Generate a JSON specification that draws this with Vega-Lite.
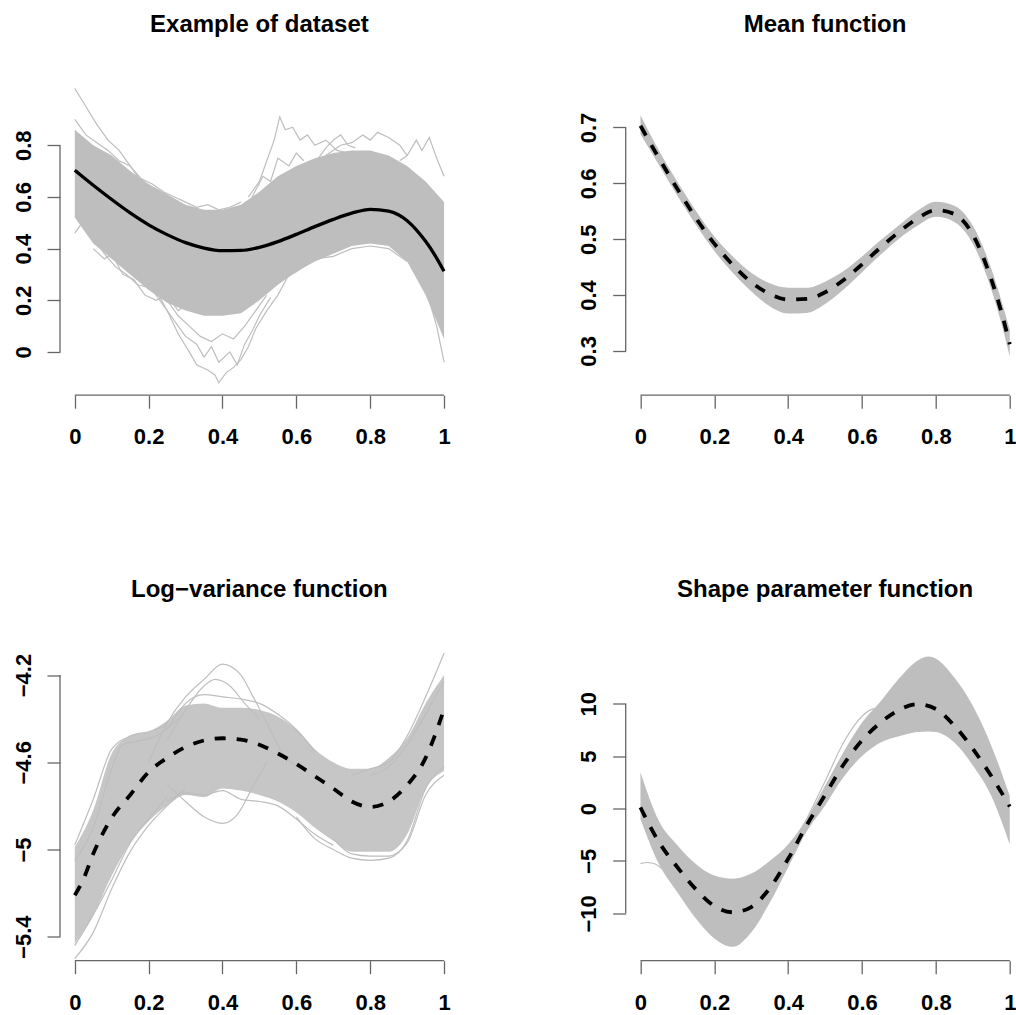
{
  "$schema": "https://vega.github.io/schema/vega-lite/v6.json",
  "background": "white",
  "padding": {"left": 11, "top": 12, "right": 0, "bottom": 0},
  "config": {
    "view": {"stroke": null},
    "axis": {"domain": false, "grid": false, "tickSize": 13, "tickColor": "#666666", "tickWidth": 1.3,
             "labelFont": "Liberation Sans", "labelFontWeight": "bold", "labelFontSize": 22, "labelColor": "#000000",
             "labelOverlap": false, "labelFlush": false, "labelBound": false},
    "title": {"font": "Liberation Sans", "fontSize": 24, "fontWeight": "bold", "color": "#000000", "anchor": "middle", "frame": "group", "baseline": "alphabetic", "offset": 42.2, "dx": 4.6}
  },
  "datasets": {
    "tl_band": [
      {"x":0,"lo":0.52,"hi":0.86},{"x":0.05,"lo":0.42,"hi":0.80},{"x":0.1,"lo":0.36,"hi":0.76},{"x":0.15,"lo":0.30,"hi":0.70},
      {"x":0.2,"lo":0.24,"hi":0.65},{"x":0.25,"lo":0.19,"hi":0.61},{"x":0.3,"lo":0.16,"hi":0.57},{"x":0.35,"lo":0.14,"hi":0.55},
      {"x":0.4,"lo":0.14,"hi":0.55},{"x":0.45,"lo":0.15,"hi":0.57},{"x":0.5,"lo":0.20,"hi":0.62},{"x":0.55,"lo":0.26,"hi":0.68},
      {"x":0.6,"lo":0.31,"hi":0.72},{"x":0.65,"lo":0.35,"hi":0.75},{"x":0.7,"lo":0.38,"hi":0.77},{"x":0.75,"lo":0.41,"hi":0.78},
      {"x":0.8,"lo":0.42,"hi":0.78},{"x":0.85,"lo":0.41,"hi":0.76},{"x":0.9,"lo":0.35,"hi":0.72},{"x":0.95,"lo":0.22,"hi":0.66},
      {"x":1,"lo":0.05,"hi":0.58}
    ],
    "tl_lines": [
      {"id":"s1","x":0,"y":1.02},{"id":"s1","x":0.03,"y":0.95},{"id":"s1","x":0.06,"y":0.88},{"id":"s1","x":0.09,"y":0.82},{"id":"s1","x":0.12,"y":0.78},{"id":"s1","x":0.15,"y":0.72},{"id":"s1","x":0.18,"y":0.66},
      {"id":"s2","x":0.47,"y":0.6},{"id":"s2","x":0.5,"y":0.66},{"id":"s2","x":0.52,"y":0.74},{"id":"s2","x":0.54,"y":0.82},{"id":"s2","x":0.555,"y":0.91},{"id":"s2","x":0.57,"y":0.86},{"id":"s2","x":0.59,"y":0.87},{"id":"s2","x":0.61,"y":0.82},{"id":"s2","x":0.63,"y":0.84},{"id":"s2","x":0.65,"y":0.8},{"id":"s2","x":0.68,"y":0.82},{"id":"s2","x":0.71,"y":0.78},{"id":"s2","x":0.74,"y":0.77},
      {"id":"s2b","x":0.48,"y":0.6},{"id":"s2b","x":0.51,"y":0.68},{"id":"s2b","x":0.53,"y":0.66},{"id":"s2b","x":0.55,"y":0.75},{"id":"s2b","x":0.58,"y":0.72},{"id":"s2b","x":0.6,"y":0.77},{"id":"s2b","x":0.62,"y":0.74},
      {"id":"s3","x":0.68,"y":0.76},{"id":"s3","x":0.72,"y":0.8},{"id":"s3","x":0.75,"y":0.81},{"id":"s3","x":0.78,"y":0.84},{"id":"s3","x":0.8,"y":0.82},{"id":"s3","x":0.82,"y":0.85},{"id":"s3","x":0.85,"y":0.83},{"id":"s3","x":0.88,"y":0.8},{"id":"s3","x":0.9,"y":0.76},
      {"id":"s3b","x":0.66,"y":0.75},{"id":"s3b","x":0.68,"y":0.79},{"id":"s3b","x":0.7,"y":0.82},{"id":"s3b","x":0.72,"y":0.84},{"id":"s3b","x":0.74,"y":0.8},{"id":"s3b","x":0.76,"y":0.79},
      {"id":"s4","x":0.88,"y":0.74},{"id":"s4","x":0.9,"y":0.76},{"id":"s4","x":0.925,"y":0.82},{"id":"s4","x":0.94,"y":0.78},{"id":"s4","x":0.96,"y":0.83},{"id":"s4","x":0.98,"y":0.75},{"id":"s4","x":1,"y":0.68},
      {"id":"s5","x":0.22,"y":0.24},{"id":"s5","x":0.25,"y":0.16},{"id":"s5","x":0.28,"y":0.07},{"id":"s5","x":0.31,"y":0.0},{"id":"s5","x":0.33,"y":-0.05},{"id":"s5","x":0.36,"y":-0.07},{"id":"s5","x":0.38,"y":-0.09},{"id":"s5","x":0.39,"y":-0.12},{"id":"s5","x":0.41,"y":-0.08},{"id":"s5","x":0.43,"y":-0.06},{"id":"s5","x":0.45,"y":-0.03},{"id":"s5","x":0.47,"y":0.02},{"id":"s5","x":0.49,"y":0.09},{"id":"s5","x":0.52,"y":0.16},{"id":"s5","x":0.55,"y":0.22},{"id":"s5","x":0.58,"y":0.3},
      {"id":"s6","x":0.2,"y":0.26},{"id":"s6","x":0.24,"y":0.18},{"id":"s6","x":0.27,"y":0.12},{"id":"s6","x":0.3,"y":0.06},{"id":"s6","x":0.33,"y":0.03},{"id":"s6","x":0.35,"y":-0.02},{"id":"s6","x":0.37,"y":0.02},{"id":"s6","x":0.39,"y":-0.04},{"id":"s6","x":0.42,"y":0.0},{"id":"s6","x":0.44,"y":-0.05},{"id":"s6","x":0.46,"y":0.03},{"id":"s6","x":0.48,"y":0.08},{"id":"s6","x":0.5,"y":0.14},{"id":"s6","x":0.53,"y":0.21},
      {"id":"s7","x":0.25,"y":0.2},{"id":"s7","x":0.28,"y":0.14},{"id":"s7","x":0.31,"y":0.1},{"id":"s7","x":0.34,"y":0.06},{"id":"s7","x":0.37,"y":0.04},{"id":"s7","x":0.4,"y":0.07},{"id":"s7","x":0.43,"y":0.05},{"id":"s7","x":0.46,"y":0.1},{"id":"s7","x":0.49,"y":0.16},{"id":"s7","x":0.52,"y":0.22},
      {"id":"s8","x":0,"y":0.46},{"id":"s8","x":0.03,"y":0.52},{"id":"s8","x":0.05,"y":0.45},{"id":"s8","x":0.08,"y":0.38},{"id":"s8","x":0.11,"y":0.33},{"id":"s8","x":0.14,"y":0.3},{"id":"s8","x":0.17,"y":0.26},{"id":"s8","x":0.2,"y":0.25},
      {"id":"s9","x":0.88,"y":0.38},{"id":"s9","x":0.9,"y":0.36},{"id":"s9","x":0.93,"y":0.3},{"id":"s9","x":0.96,"y":0.2},{"id":"s9","x":0.98,"y":0.1},{"id":"s9","x":1,"y":-0.04},
      {"id":"s10","x":0.5,"y":0.21},{"id":"s10","x":0.55,"y":0.27},{"id":"s10","x":0.6,"y":0.31},{"id":"s10","x":0.65,"y":0.36},{"id":"s10","x":0.7,"y":0.37},{"id":"s10","x":0.75,"y":0.4},{"id":"s10","x":0.8,"y":0.41},{"id":"s10","x":0.85,"y":0.4},{"id":"s10","x":0.9,"y":0.35},
      {"id":"s11","x":0,"y":0.9},{"id":"s11","x":0.03,"y":0.84},{"id":"s11","x":0.06,"y":0.81},{"id":"s11","x":0.09,"y":0.78},{"id":"s11","x":0.12,"y":0.74},{"id":"s11","x":0.15,"y":0.72},{"id":"s11","x":0.18,"y":0.67},{"id":"s11","x":0.21,"y":0.65},{"id":"s11","x":0.24,"y":0.62},{"id":"s11","x":0.27,"y":0.6},{"id":"s11","x":0.3,"y":0.58},{"id":"s11","x":0.33,"y":0.56},{"id":"s11","x":0.36,"y":0.57},{"id":"s11","x":0.39,"y":0.55},{"id":"s11","x":0.42,"y":0.56},{"id":"s11","x":0.45,"y":0.58},
      {"id":"s12","x":0.05,"y":0.4},{"id":"s12","x":0.08,"y":0.36},{"id":"s12","x":0.1,"y":0.38},{"id":"s12","x":0.13,"y":0.3},{"id":"s12","x":0.16,"y":0.28},{"id":"s12","x":0.19,"y":0.22},{"id":"s12","x":0.22,"y":0.2},{"id":"s12","x":0.25,"y":0.22},{"id":"s12","x":0.28,"y":0.16},{"id":"s12","x":0.3,"y":0.18}
    ],
    "mean_fn": [
      {"x":0,"y":0.703},{"x":0.05,"y":0.645},{"x":0.1,"y":0.590},{"x":0.15,"y":0.538},{"x":0.2,"y":0.492},{"x":0.25,"y":0.454},{"x":0.3,"y":0.423},
      {"x":0.35,"y":0.402},{"x":0.4,"y":0.392},{"x":0.45,"y":0.393},{"x":0.5,"y":0.405},{"x":0.55,"y":0.427},{"x":0.6,"y":0.455},{"x":0.65,"y":0.485},
      {"x":0.7,"y":0.513},{"x":0.75,"y":0.537},{"x":0.8,"y":0.552},{"x":0.85,"y":0.545},{"x":0.9,"y":0.508},{"x":0.95,"y":0.428},{"x":0.975,"y":0.375},{"x":1,"y":0.312}
    ],
    "tr_band": [
      {"x":0,"lo":0.688,"hi":0.722},{"x":0.05,"lo":0.633,"hi":0.659},{"x":0.1,"lo":0.578,"hi":0.603},{"x":0.15,"lo":0.526,"hi":0.551},
      {"x":0.2,"lo":0.479,"hi":0.505},{"x":0.25,"lo":0.440,"hi":0.469},{"x":0.3,"lo":0.407,"hi":0.440},{"x":0.35,"lo":0.380,"hi":0.421},
      {"x":0.4,"lo":0.367,"hi":0.413},{"x":0.45,"lo":0.368,"hi":0.413},{"x":0.5,"lo":0.384,"hi":0.424},{"x":0.55,"lo":0.410,"hi":0.443},
      {"x":0.6,"lo":0.441,"hi":0.469},{"x":0.65,"lo":0.472,"hi":0.498},{"x":0.7,"lo":0.501,"hi":0.525},{"x":0.75,"lo":0.524,"hi":0.551},
      {"x":0.8,"lo":0.540,"hi":0.567},{"x":0.85,"lo":0.531,"hi":0.560},{"x":0.9,"lo":0.492,"hi":0.524},{"x":0.95,"lo":0.410,"hi":0.447},
      {"x":0.975,"lo":0.355,"hi":0.395},{"x":1,"lo":0.290,"hi":0.338}
    ],
    "bl_band": [
      {"x":0,"lo":-5.43,"hi":-4.99},{"x":0.05,"lo":-5.30,"hi":-4.82},{"x":0.1,"lo":-5.12,"hi":-4.56},{"x":0.15,"lo":-4.97,"hi":-4.48},
      {"x":0.2,"lo":-4.87,"hi":-4.46},{"x":0.25,"lo":-4.80,"hi":-4.41},{"x":0.3,"lo":-4.75,"hi":-4.34},{"x":0.35,"lo":-4.76,"hi":-4.33},
      {"x":0.4,"lo":-4.72,"hi":-4.35},{"x":0.45,"lo":-4.73,"hi":-4.35},{"x":0.5,"lo":-4.75,"hi":-4.36},{"x":0.55,"lo":-4.78,"hi":-4.39},
      {"x":0.6,"lo":-4.83,"hi":-4.45},{"x":0.65,"lo":-4.90,"hi":-4.54},{"x":0.7,"lo":-4.96,"hi":-4.60},{"x":0.75,"lo":-5.01,"hi":-4.63},
      {"x":0.8,"lo":-5.01,"hi":-4.63},{"x":0.85,"lo":-5.01,"hi":-4.58},{"x":0.9,"lo":-4.93,"hi":-4.49},{"x":0.95,"lo":-4.72,"hi":-4.33},
      {"x":1,"lo":-4.64,"hi":-4.20}
    ],
    "bl_lines": [
      {"id":"b1","x":0.2,"y":-4.6},{"id":"b1","x":0.25,"y":-4.42},{"id":"b1","x":0.3,"y":-4.3},{"id":"b1","x":0.35,"y":-4.22},{"id":"b1","x":0.4,"y":-4.15},{"id":"b1","x":0.45,"y":-4.2},{"id":"b1","x":0.48,"y":-4.29},{"id":"b1","x":0.52,"y":-4.42},{"id":"b1","x":0.56,"y":-4.55},{"id":"b1","x":0.6,"y":-4.62},
      {"id":"b2","x":0.25,"y":-4.5},{"id":"b2","x":0.3,"y":-4.36},{"id":"b2","x":0.35,"y":-4.25},{"id":"b2","x":0.38,"y":-4.22},{"id":"b2","x":0.42,"y":-4.25},{"id":"b2","x":0.46,"y":-4.33},{"id":"b2","x":0.5,"y":-4.4},
      {"id":"b3","x":0.25,"y":-4.7},{"id":"b3","x":0.3,"y":-4.78},{"id":"b3","x":0.35,"y":-4.85},{"id":"b3","x":0.4,"y":-4.88},{"id":"b3","x":0.44,"y":-4.84},{"id":"b3","x":0.48,"y":-4.72},{"id":"b3","x":0.52,"y":-4.6},
      {"id":"b4","x":0,"y":-5.5},{"id":"b4","x":0.05,"y":-5.38},{"id":"b4","x":0.1,"y":-5.18},{"id":"b4","x":0.15,"y":-5.01},{"id":"b4","x":0.2,"y":-4.89},{"id":"b4","x":0.25,"y":-4.8},{"id":"b4","x":0.3,"y":-4.72},
      {"id":"b5","x":0,"y":-5.44},{"id":"b5","x":0.05,"y":-5.3},{"id":"b5","x":0.1,"y":-5.14},{"id":"b5","x":0.15,"y":-4.97},{"id":"b5","x":0.2,"y":-4.86},{"id":"b5","x":0.25,"y":-4.76},
      {"id":"b6","x":0,"y":-4.98},{"id":"b6","x":0.05,"y":-4.77},{"id":"b6","x":0.1,"y":-4.54},{"id":"b6","x":0.15,"y":-4.48},{"id":"b6","x":0.2,"y":-4.46},{"id":"b6","x":0.25,"y":-4.43},
      {"id":"b7","x":0.75,"y":-4.66},{"id":"b7","x":0.8,"y":-4.63},{"id":"b7","x":0.85,"y":-4.6},{"id":"b7","x":0.9,"y":-4.48},{"id":"b7","x":0.95,"y":-4.3},{"id":"b7","x":1,"y":-4.1},
      {"id":"b8","x":0.7,"y":-4.95},{"id":"b8","x":0.75,"y":-5.02},{"id":"b8","x":0.8,"y":-5.03},{"id":"b8","x":0.85,"y":-5.03},{"id":"b8","x":0.9,"y":-4.97},{"id":"b8","x":0.95,"y":-4.75},{"id":"b8","x":1,"y":-4.66},
      {"id":"b9","x":0.25,"y":-4.45},{"id":"b9","x":0.3,"y":-4.33},{"id":"b9","x":0.35,"y":-4.29},{"id":"b9","x":0.4,"y":-4.3},{"id":"b9","x":0.45,"y":-4.31},{"id":"b9","x":0.5,"y":-4.33},{"id":"b9","x":0.55,"y":-4.38},{"id":"b9","x":0.6,"y":-4.45},{"id":"b9","x":0.65,"y":-4.55},
      {"id":"b10","x":0.25,"y":-4.78},{"id":"b10","x":0.3,"y":-4.74},{"id":"b10","x":0.35,"y":-4.75},{"id":"b10","x":0.4,"y":-4.73},{"id":"b10","x":0.45,"y":-4.77},{"id":"b10","x":0.5,"y":-4.78},{"id":"b10","x":0.55,"y":-4.8},{"id":"b10","x":0.6,"y":-4.86},{"id":"b10","x":0.65,"y":-4.93},{"id":"b10","x":0.7,"y":-4.98},
      {"id":"b11","x":0,"y":-5.05},{"id":"b11","x":0.05,"y":-4.9},{"id":"b11","x":0.1,"y":-4.63},{"id":"b11","x":0.13,"y":-4.52},{"id":"b11","x":0.18,"y":-4.5},{"id":"b11","x":0.23,"y":-4.47},{"id":"b11","x":0.28,"y":-4.4},
      {"id":"b12","x":0.8,"y":-4.66},{"id":"b12","x":0.85,"y":-4.62},{"id":"b12","x":0.9,"y":-4.52},{"id":"b12","x":0.95,"y":-4.38},{"id":"b12","x":1,"y":-4.23},
      {"id":"b13","x":0.6,"y":-4.85},{"id":"b13","x":0.65,"y":-4.95},{"id":"b13","x":0.7,"y":-5.0},{"id":"b13","x":0.75,"y":-5.04},{"id":"b13","x":0.8,"y":-5.05},{"id":"b13","x":0.85,"y":-5.04},{"id":"b13","x":0.9,"y":-4.96},{"id":"b13","x":0.95,"y":-4.72},{"id":"b13","x":1,"y":-4.62}
    ],
    "bl_mean": [
      {"x":0,"y":-5.21},{"x":0.025,"y":-5.13},{"x":0.05,"y":-5.02},{"x":0.075,"y":-4.93},{"x":0.1,"y":-4.855},{"x":0.15,"y":-4.75},{"x":0.2,"y":-4.645},
      {"x":0.25,"y":-4.58},{"x":0.3,"y":-4.53},{"x":0.35,"y":-4.5},{"x":0.4,"y":-4.49},{"x":0.45,"y":-4.496},{"x":0.5,"y":-4.52},{"x":0.55,"y":-4.56},
      {"x":0.6,"y":-4.608},{"x":0.65,"y":-4.664},{"x":0.7,"y":-4.72},{"x":0.75,"y":-4.78},{"x":0.8,"y":-4.805},{"x":0.85,"y":-4.78},{"x":0.9,"y":-4.705},
      {"x":0.95,"y":-4.58},{"x":0.975,"y":-4.478},{"x":1,"y":-4.356}
    ],
    "br_band": [
      {"x":0,"lo":-1.0,"hi":3.45},{"x":0.05,"lo":-5.3,"hi":-1.2},{"x":0.1,"lo":-8.0,"hi":-3.5},{"x":0.15,"lo":-10.5,"hi":-5.3},
      {"x":0.2,"lo":-12.4,"hi":-6.4},{"x":0.25,"lo":-13.2,"hi":-6.7},{"x":0.3,"lo":-11.8,"hi":-6.2},{"x":0.35,"lo":-9.0,"hi":-5.0},
      {"x":0.4,"lo":-5.6,"hi":-3.4},{"x":0.45,"lo":-2.2,"hi":-1.0},{"x":0.5,"lo":0.3,"hi":2.2},{"x":0.55,"lo":3.0,"hi":5.4},
      {"x":0.6,"lo":5.0,"hi":8.2},{"x":0.65,"lo":6.3,"hi":10.2},{"x":0.7,"lo":6.9,"hi":12.4},{"x":0.75,"lo":7.3,"hi":14.1},
      {"x":0.78,"lo":7.35,"hi":14.5},{"x":0.8,"lo":7.3,"hi":14.3},{"x":0.85,"lo":6.3,"hi":12.5},{"x":0.9,"lo":4.1,"hi":9.8},{"x":0.95,"lo":1.2,"hi":6.0},
      {"x":1,"lo":-3.4,"hi":1.2}
    ],
    "br_lines": [
      {"id":"o1","x":0.42,"y":-3.0},{"id":"o1","x":0.45,"y":-1.0},{"id":"o1","x":0.5,"y":2.6},{"id":"o1","x":0.55,"y":6.3},{"id":"o1","x":0.6,"y":8.8},{"id":"o1","x":0.63,"y":9.5},{"id":"o1","x":0.66,"y":9.6},{"id":"o1","x":0.7,"y":10.4},
      {"id":"o2","x":0,"y":-5.25},{"id":"o2","x":0.02,"y":-5.15},{"id":"o2","x":0.04,"y":-5.3},{"id":"o2","x":0.06,"y":-5.8},{"id":"o2","x":0.08,"y":-6.6}
    ],
    "br_mean": [
      {"x":0,"y":0.1},{"x":0.05,"y":-3.2},{"x":0.1,"y":-5.6},{"x":0.15,"y":-7.7},{"x":0.2,"y":-9.3},{"x":0.25,"y":-9.9},{"x":0.3,"y":-9.4},
      {"x":0.35,"y":-7.6},{"x":0.4,"y":-4.8},{"x":0.45,"y":-1.6},{"x":0.5,"y":1.3},{"x":0.55,"y":4.2},{"x":0.6,"y":6.5},{"x":0.65,"y":8.2},
      {"x":0.7,"y":9.4},{"x":0.75,"y":9.95},{"x":0.8,"y":9.5},{"x":0.85,"y":7.9},{"x":0.9,"y":5.7},{"x":0.95,"y":3.1},{"x":1,"y":0.2}
    ]
  },
  "columns": 2,
  "bounds": "flush",
  "spacing": {"row": 248.5, "column": 175.7},
  "concat": [
    {
      "width": 389.6, "height": 316.2,
      "title": {"text": "Example of dataset"},
      "layer": [
        {"data": {"name": "tl_band"}, "mark": {"type": "area", "color": "#bebebe"},
         "encoding": {
           "x": {"field": "x", "type": "quantitative", "title": null, "scale": {"domain": [-0.04, 1.015], "nice": false, "zero": false},
                 "axis": {"values": [0, 0.2, 0.4, 0.6, 0.8, 1], "format": "~g", "labelPadding": 18.5}},
           "y": {"field": "lo", "type": "quantitative", "title": null, "scale": {"domain": [-0.1676, 1.0565], "nice": false, "zero": false},
                 "axis": {"values": [0, 0.2, 0.4, 0.6, 0.8], "format": "~g", "labelAngle": 270, "labelAlign": "center", "labelBaseline": "alphabetic", "labelPadding": 17}},
           "y2": {"field": "hi"}}},
        {"data": {"name": "tl_lines"}, "mark": {"type": "line", "color": "#bebebe", "strokeWidth": 1.2},
         "encoding": {"x": {"field": "x", "type": "quantitative"}, "y": {"field": "y", "type": "quantitative"}, "detail": {"field": "id"}}},
        {"data": {"name": "mean_fn"}, "mark": {"type": "line", "color": "#000000", "strokeWidth": 3.3, "interpolate": "monotone"},
         "encoding": {"x": {"field": "x", "type": "quantitative"}, "y": {"field": "y", "type": "quantitative"}}},
        {"data": {"values": [{}]}, "mark": {"type": "rule", "color": "#666666", "strokeWidth": 1.3},
         "encoding": {"x": {"datum": 0}, "x2": {"datum": 1}, "y": {"datum": -0.1676}}},
        {"data": {"values": [{}]}, "mark": {"type": "rule", "color": "#666666", "strokeWidth": 1.3},
         "encoding": {"x": {"datum": -0.04}, "y": {"datum": 0}, "y2": {"datum": 0.8}}}
      ]
    },
    {
      "width": 389.6, "height": 316.2,
      "title": {"text": "Mean function"},
      "layer": [
        {"data": {"name": "tr_band"}, "mark": {"type": "area", "color": "#bebebe", "interpolate": "monotone"},
         "encoding": {
           "x": {"field": "x", "type": "quantitative", "title": null, "scale": {"domain": [-0.04, 1.015], "nice": false, "zero": false},
                 "axis": {"values": [0, 0.2, 0.4, 0.6, 0.8, 1], "format": "~g", "labelPadding": 18.5}},
           "y": {"field": "lo", "type": "quantitative", "title": null, "scale": {"domain": [0.2207, 0.7868], "nice": false, "zero": false},
                 "axis": {"values": [0.3, 0.4, 0.5, 0.6, 0.7], "format": "~g", "labelAngle": 270, "labelAlign": "center", "labelBaseline": "alphabetic", "labelPadding": 17}},
           "y2": {"field": "hi"}}},
        {"data": {"name": "mean_fn"}, "mark": {"type": "line", "color": "#000000", "strokeWidth": 3.8, "interpolate": "monotone", "strokeDash": [11, 11]},
         "encoding": {"x": {"field": "x", "type": "quantitative"}, "y": {"field": "y", "type": "quantitative"}}},
        {"data": {"values": [{}]}, "mark": {"type": "rule", "color": "#666666", "strokeWidth": 1.3},
         "encoding": {"x": {"datum": 0}, "x2": {"datum": 1}, "y": {"datum": 0.2207}}},
        {"data": {"values": [{}]}, "mark": {"type": "rule", "color": "#666666", "strokeWidth": 1.3},
         "encoding": {"x": {"datum": -0.04}, "y": {"datum": 0.3}, "y2": {"datum": 0.7}}}
      ]
    },
    {
      "width": 389.6, "height": 316.2,
      "title": {"text": "Log−variance function"},
      "layer": [
        {"data": {"name": "bl_band"}, "mark": {"type": "area", "color": "#c6c6c6", "interpolate": "monotone"},
         "encoding": {
           "x": {"field": "x", "type": "quantitative", "title": null, "scale": {"domain": [-0.04, 1.015], "nice": false, "zero": false},
                 "axis": {"values": [0, 0.2, 0.4, 0.6, 0.8, 1], "format": "~g", "labelPadding": 18.5}},
           "y": {"field": "lo", "type": "quantitative", "title": null, "scale": {"domain": [-5.51, -4.06], "nice": false, "zero": false},
                 "axis": {"values": [-5.4, -5, -4.6, -4.2], "format": "~g", "labelAngle": 270, "labelAlign": "center", "labelBaseline": "alphabetic", "labelPadding": 17}},
           "y2": {"field": "hi"}}},
        {"data": {"name": "bl_lines"}, "mark": {"type": "line", "color": "#bebebe", "strokeWidth": 1.2, "interpolate": "monotone"},
         "encoding": {"x": {"field": "x", "type": "quantitative"}, "y": {"field": "y", "type": "quantitative"}, "detail": {"field": "id"}}},
        {"data": {"name": "bl_mean"}, "mark": {"type": "line", "color": "#000000", "strokeWidth": 3.8, "interpolate": "monotone", "strokeDash": [11, 11]},
         "encoding": {"x": {"field": "x", "type": "quantitative"}, "y": {"field": "y", "type": "quantitative"}}},
        {"data": {"values": [{}]}, "mark": {"type": "rule", "color": "#666666", "strokeWidth": 1.3},
         "encoding": {"x": {"datum": 0}, "x2": {"datum": 1}, "y": {"datum": -5.51}}},
        {"data": {"values": [{}]}, "mark": {"type": "rule", "color": "#666666", "strokeWidth": 1.3},
         "encoding": {"x": {"datum": -0.04}, "y": {"datum": -5.4}, "y2": {"datum": -4.2}}}
      ]
    },
    {
      "width": 389.6, "height": 316.2,
      "title": {"text": "Shape parameter function"},
      "layer": [
        {"data": {"name": "br_band"}, "mark": {"type": "area", "color": "#bebebe", "interpolate": "monotone"},
         "encoding": {
           "x": {"field": "x", "type": "quantitative", "title": null, "scale": {"domain": [-0.04, 1.015], "nice": false, "zero": false},
                 "axis": {"values": [0, 0.2, 0.4, 0.6, 0.8, 1], "format": "~g", "labelPadding": 18.5}},
           "y": {"field": "lo", "type": "quantitative", "title": null, "scale": {"domain": [-14.52, 15.65], "nice": false, "zero": false},
                 "axis": {"values": [-10, -5, 0, 5, 10], "format": "~g", "labelAngle": 270, "labelAlign": "center", "labelBaseline": "alphabetic", "labelPadding": 17}},
           "y2": {"field": "hi"}}},
        {"data": {"name": "br_lines"}, "mark": {"type": "line", "color": "#bebebe", "strokeWidth": 1.2, "interpolate": "monotone"},
         "encoding": {"x": {"field": "x", "type": "quantitative"}, "y": {"field": "y", "type": "quantitative"}, "detail": {"field": "id"}}},
        {"data": {"name": "br_mean"}, "mark": {"type": "line", "color": "#000000", "strokeWidth": 3.8, "interpolate": "monotone", "strokeDash": [11, 11]},
         "encoding": {"x": {"field": "x", "type": "quantitative"}, "y": {"field": "y", "type": "quantitative"}}},
        {"data": {"values": [{}]}, "mark": {"type": "rule", "color": "#666666", "strokeWidth": 1.3},
         "encoding": {"x": {"datum": 0}, "x2": {"datum": 1}, "y": {"datum": -14.52}}},
        {"data": {"values": [{}]}, "mark": {"type": "rule", "color": "#666666", "strokeWidth": 1.3},
         "encoding": {"x": {"datum": -0.04}, "y": {"datum": -10}, "y2": {"datum": 10}}}
      ]
    }
  ]
}
